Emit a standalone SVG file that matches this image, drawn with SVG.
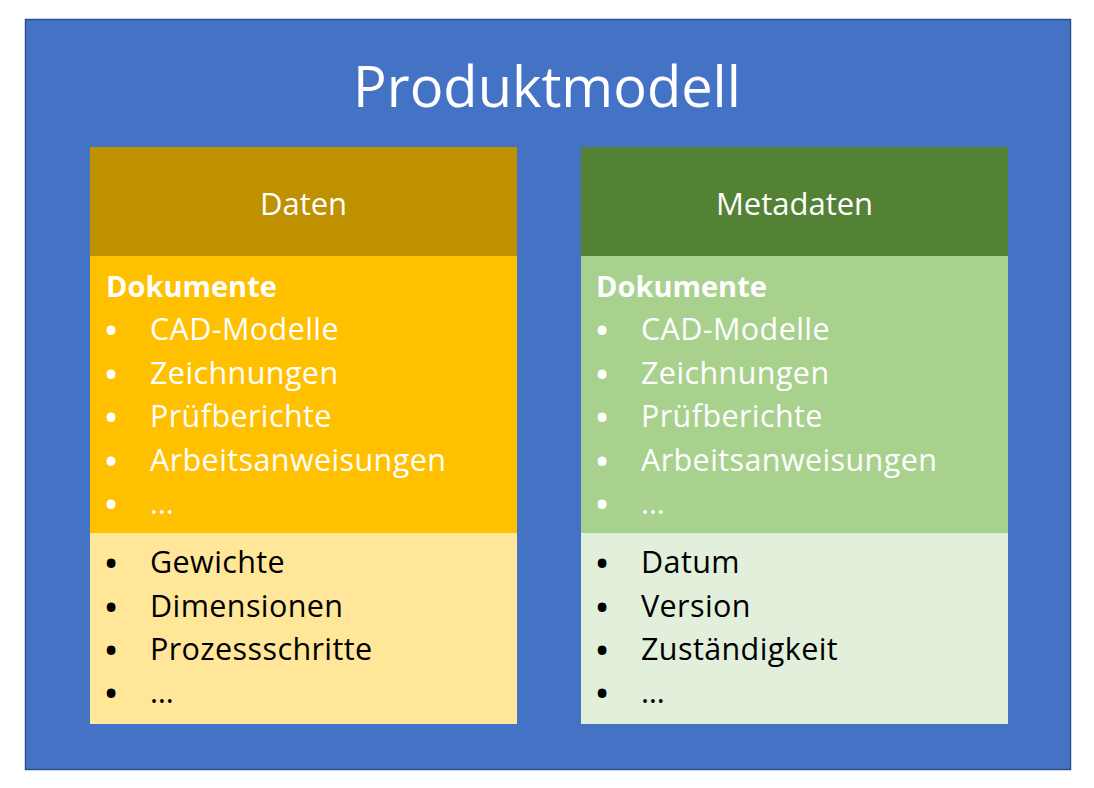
<svg xmlns="http://www.w3.org/2000/svg" width="1094" height="788" viewBox="0 0 1094 788">
<style>
text{font-family:"Open Sans","Liberation Sans",sans-serif}
.title{font-size:56px;fill:#fff;text-anchor:middle}
.hdr{font-size:31px;fill:#fff;text-anchor:middle}
.item{font-size:30.5px;letter-spacing:0.4px}
.b{font-size:31px;font-weight:bold;text-anchor:middle;letter-spacing:0}
.w{fill:#fff}
.k{fill:#000}
.bold{font-weight:bold;font-size:29px;letter-spacing:0}
</style>
<rect x="0" y="0" width="1094" height="788" fill="#fff"/>
<rect id="frame" x="25.5" y="19.5" width="1045" height="750" fill="#4472C4" stroke="#2F528F" stroke-width="1.5"/>
<text class="title" x="547" y="107">Produktmodell</text>
<g id="daten">
<rect x="90" y="147" width="427" height="109" fill="#BF9000"/>
<rect x="90" y="256" width="427" height="277" fill="#FFC000"/>
<rect x="90" y="533" width="427" height="191" fill="#FFE699"/>
<text class="hdr" x="303.5" y="215">Daten</text>
<g class="item w">
<text class="bold" x="106" y="297">Dokumente</text>
<text class="b" x="111" y="341">•</text><text x="150" y="340">CAD-Modelle</text>
<text class="b" x="111" y="385">•</text><text x="150" y="384">Zeichnungen</text>
<text class="b" x="111" y="428">•</text><text x="150" y="427">Prüfberichte</text>
<text class="b" x="111" y="472">•</text><text x="150" y="471">Arbeitsanweisungen</text>
<text class="b" x="111" y="515">•</text><text x="150" y="514">…</text>
</g>
<g class="item k">
<text class="b" x="111" y="574">•</text><text x="150" y="573">Gewichte</text>
<text class="b" x="111" y="618">•</text><text x="150" y="617">Dimensionen</text>
<text class="b" x="111" y="661">•</text><text x="150" y="660">Prozessschritte</text>
<text class="b" x="111" y="704">•</text><text x="150" y="703">…</text>
</g>
</g>
<g id="metadaten">
<rect x="581" y="147" width="427" height="109" fill="#548235"/>
<rect x="581" y="256" width="427" height="277" fill="#A9D18E"/>
<rect x="581" y="533" width="427" height="191" fill="#E2EFDA"/>
<text class="hdr" x="794.5" y="215">Metadaten</text>
<g class="item w">
<text class="bold" x="596" y="297">Dokumente</text>
<text class="b" x="602" y="341">•</text><text x="641" y="340">CAD-Modelle</text>
<text class="b" x="602" y="385">•</text><text x="641" y="384">Zeichnungen</text>
<text class="b" x="602" y="428">•</text><text x="641" y="427">Prüfberichte</text>
<text class="b" x="602" y="472">•</text><text x="641" y="471">Arbeitsanweisungen</text>
<text class="b" x="602" y="515">•</text><text x="641" y="514">…</text>
</g>
<g class="item k">
<text class="b" x="602" y="574">•</text><text x="641" y="573">Datum</text>
<text class="b" x="602" y="618">•</text><text x="641" y="617">Version</text>
<text class="b" x="602" y="661">•</text><text x="641" y="660">Zuständigkeit</text>
<text class="b" x="602" y="704">•</text><text x="641" y="703">…</text>
</g>
</g>
<g id="connectors"/>
</svg>
